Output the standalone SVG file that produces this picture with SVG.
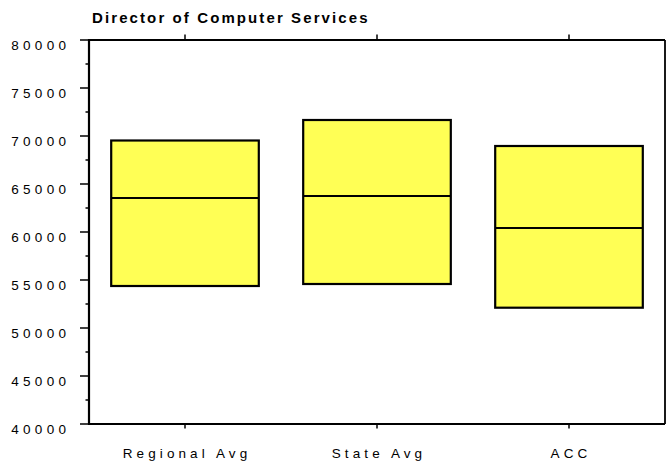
<svg xmlns="http://www.w3.org/2000/svg" width="666" height="464" viewBox="0 0 666 464">
<style>
text{font-family:"Liberation Sans",Arial,Helvetica,sans-serif;fill:#000}
.title{font-size:15px;font-weight:bold;letter-spacing:2.1px}
.ylab{font-size:13.5px;letter-spacing:4.3px;text-anchor:end}
.xlab{font-size:13.5px;letter-spacing:4.1px;text-anchor:middle}
.axis{stroke:#000;stroke-width:2.2;fill:none}
.frame{stroke:#000;stroke-width:1.8;fill:none}
.tick{stroke:#000;stroke-width:1.5}
.box{fill:#ffff55;stroke:#000;stroke-width:2.2}
.med{stroke:#000;stroke-width:2.2}
</style>
<rect width="666" height="464" fill="#fff"/>
<text class="title" x="92" y="23.3">Director of Computer Services</text>
<g id="axes">
<line class="frame" x1="89" y1="40" x2="665" y2="40"/>
<line class="frame" x1="665" y1="40" x2="665" y2="424"/>
<line class="axis" x1="89" y1="424" x2="665" y2="424"/>
<line class="axis" x1="89" y1="39" x2="89" y2="425"/>
<g class="tick">
<line x1="80" y1="40" x2="89" y2="40"/>
<line x1="80" y1="88" x2="89" y2="88"/>
<line x1="80" y1="136" x2="89" y2="136"/>
<line x1="80" y1="184" x2="89" y2="184"/>
<line x1="80" y1="232" x2="89" y2="232"/>
<line x1="80" y1="280" x2="89" y2="280"/>
<line x1="80" y1="328" x2="89" y2="328"/>
<line x1="80" y1="376" x2="89" y2="376"/>
<line x1="80" y1="424" x2="89" y2="424"/>
<line x1="85.5" y1="64" x2="89" y2="64"/>
<line x1="85.5" y1="112" x2="89" y2="112"/>
<line x1="85.5" y1="160" x2="89" y2="160"/>
<line x1="85.5" y1="208" x2="89" y2="208"/>
<line x1="85.5" y1="256" x2="89" y2="256"/>
<line x1="85.5" y1="304" x2="89" y2="304"/>
<line x1="85.5" y1="352" x2="89" y2="352"/>
<line x1="85.5" y1="400" x2="89" y2="400"/>
<line x1="185" y1="34.5" x2="185" y2="40"/>
<line x1="377" y1="34.5" x2="377" y2="40"/>
<line x1="569" y1="34.5" x2="569" y2="40"/>
<line x1="185" y1="424" x2="185" y2="428.5"/>
<line x1="377" y1="424" x2="377" y2="428.5"/>
<line x1="569" y1="424" x2="569" y2="428.5"/>
</g>
<text class="ylab" x="70.3" y="49.5">80000</text>
<text class="ylab" x="70.3" y="97.5">75000</text>
<text class="ylab" x="70.3" y="145.5">70000</text>
<text class="ylab" x="70.3" y="193.5">65000</text>
<text class="ylab" x="70.3" y="241.5">60000</text>
<text class="ylab" x="70.3" y="289.5">55000</text>
<text class="ylab" x="70.3" y="337.5">50000</text>
<text class="ylab" x="70.3" y="385.5">45000</text>
<text class="ylab" x="70.3" y="433.5">40000</text>
<text class="xlab" x="187" y="457.5">Regional Avg</text>
<text class="xlab" x="379" y="457.5">State Avg</text>
<text class="xlab" x="571" y="457.5">ACC</text>
</g>
<g id="regional">
<rect class="box" x="111.2" y="140.5" width="147.6" height="145.5"/>
<line class="med" x1="111.2" y1="198" x2="258.8" y2="198"/>
</g>
<g id="state">
<rect class="box" x="303.2" y="120" width="147.6" height="164"/>
<line class="med" x1="303.2" y1="196" x2="450.8" y2="196"/>
</g>
<g id="acc">
<rect class="box" x="495.2" y="146" width="147.6" height="161.7"/>
<line class="med" x1="495.2" y1="228" x2="642.8" y2="228"/>
</g>
</svg>
